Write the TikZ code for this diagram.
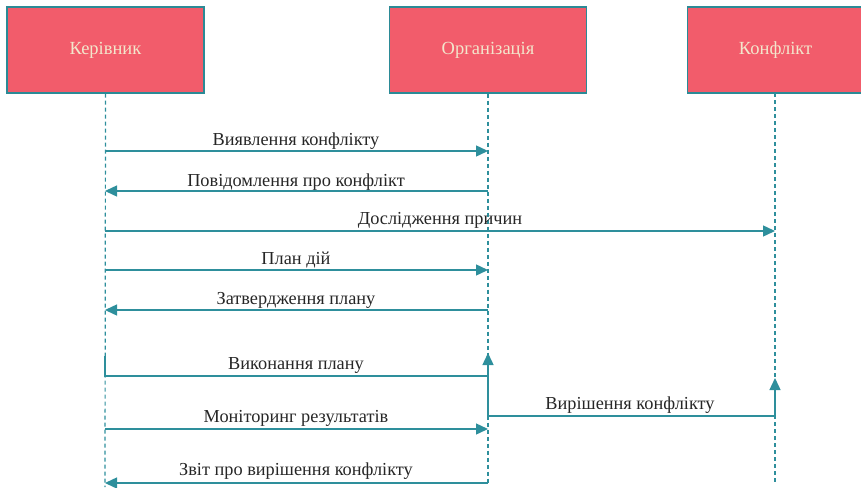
\documentclass[tikz,border=0pt]{standalone}
\usepackage{fontspec}
\setmainfont{Liberation Serif}
\usetikzlibrary{arrows.meta}
\definecolor{boxfill}{HTML}{F25C6B}
\definecolor{boxline}{HTML}{2B8A96}
\definecolor{boxtext}{HTML}{F3E6CC}
\definecolor{msg}{HTML}{2E8F9C}
\definecolor{txt}{HTML}{262626}
\tikzset{
  actor/.style={draw=boxline, line width=1.2pt, fill=boxfill, text=boxtext, minimum width=197pt, minimum height=86pt, inner sep=0pt, font=\fontsize{18.5}{20}\selectfont},
  life/.style={draw=msg, line width=1.2pt, dash pattern=on 4pt off 3pt},
  message/.style={draw=msg, line width=1.4pt, -{Triangle[length=12pt,width=11pt]}},
  lbl/.style={text=txt, font=\fontsize{18.3}{20}\selectfont, inner sep=0pt}
}
\begin{document}
\begin{tikzpicture}[x=1pt,y=-1pt]
\useasboundingbox (0,0) rectangle (861,487);
\node[actor] (K) at (105.5,50) {Керівник};
\node[actor] (O) at (488,50) {Організація};
\node[actor, anchor=west] (C) at (687,50) {\makebox[176pt]{Конфлікт}\kern30pt\relax};
% lifelines
\coordinate (Ctop) at (775,93);
\coordinate (Kend) at (105,487);
\coordinate (Oend) at (488,483);
\coordinate (Cend) at (775,482);
\draw[life] (K.south) -- (Kend);
\draw[life] (O.south) -- (Oend);
\draw[life] (Ctop) -- (Cend);
% message points
\foreach \n/\y in {1/151,2/191,3/231,4/270,5/310,6/376,7/429,8/483}{
  \coordinate (k\n) at (105,\y);
  \coordinate (o\n) at (488,\y);
  \coordinate (c\n) at (775,\y);
}
\draw[message] (k1) -- (o1);
\node[lbl] (L1) at (296,141) {Виявлення конфлікту};
\draw[message] (o2) -- (k2);
\node[lbl] (L2) at (296,182) {Повідомлення про конфлікт};
\draw[message] (k3) -- (c3);
\node[lbl] (L3) at (440,220) {Дослідження причин};
\draw[message] (k4) -- (o4);
\node[lbl] (L4) at (296,260) {План дій};
\draw[message] (o5) -- (k5);
\node[lbl] (L5) at (296,300) {Затвердження плану};
% Виконання плану
\coordinate (k6a) at (105,356);
\coordinate (o6a) at (488,353);
\draw[message] (k6a) -- (k6) -- (o6) -- (o6a);
\node[lbl] (L6) at (296,365) {Виконання плану};
% Вирішення конфлікту
\coordinate (o9) at (488,416);
\coordinate (c9) at (775,416);
\coordinate (c9a) at (775,378);
\draw[message] (o6) -- (o9) -- (c9) -- (c9a);
\node[lbl] (L9) at (630,405) {Вирішення конфлікту};
\draw[message] (k7) -- (o7);
\node[lbl] (L7) at (296,418) {Моніторинг результатів};
\draw[message] (o8) -- (k8);
\node[lbl] (L8) at (296,471) {Звіт про вирішення конфлікту};
\end{tikzpicture}
\end{document}
